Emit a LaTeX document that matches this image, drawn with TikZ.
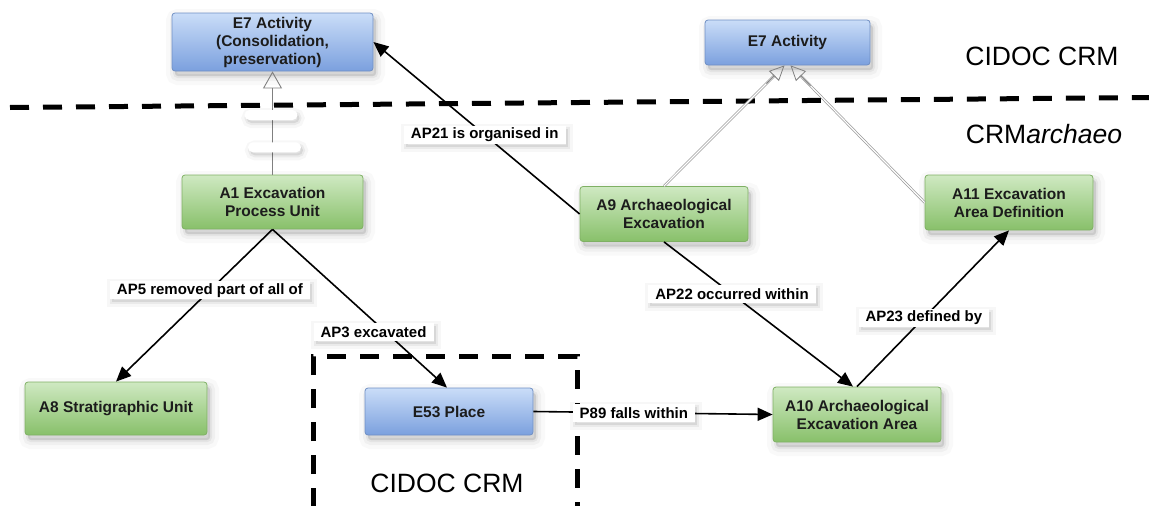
\documentclass[tikz,border=0pt]{standalone}
\usepackage{fontspec}
\setmainfont{Liberation Sans}
\usetikzlibrary{arrows.meta,shadows,calc}
\definecolor{bluetop}{HTML}{CADDF8}
\definecolor{bluebot}{HTML}{7BA0DE}
\definecolor{blueedge}{HTML}{6F8FC4}
\definecolor{greentop}{HTML}{CFE9C2}
\definecolor{greenbot}{HTML}{88C06A}
\definecolor{greenedge}{HTML}{7FB064}
\definecolor{txt}{HTML}{1C1C1C}
\tikzset{
  soft/.style={
    general shadow={shadow xshift=3pt, shadow yshift=-5pt, fill=black, draw=black, line width=18pt, opacity=0.025},
    general shadow={shadow xshift=3pt, shadow yshift=-5pt, fill=black, draw=black, line width=10pt, opacity=0.035},
    general shadow={shadow xshift=3pt, shadow yshift=-5pt, fill=black, draw=black, line width=4pt, opacity=0.05}},
  softsmall/.style={
    general shadow={shadow xshift=2pt, shadow yshift=-3pt, fill=black, draw=black, line width=10pt, opacity=0.03},
    general shadow={shadow xshift=2pt, shadow yshift=-3pt, fill=black, draw=black, line width=4pt, opacity=0.05}},
  box/.style={rounded corners=3pt, line width=0.8pt, align=center, inner sep=0pt,
    text=txt, font=\bfseries\fontsize{15.5}{18}\selectfont, soft},
  bluebox/.style={box, draw=blueedge, top color=bluetop, bottom color=bluebot},
  greenbox/.style={box, draw=greenedge, top color=greentop, bottom color=greenbot},
  lbl/.style={fill=white, inner xsep=7pt, inner ysep=1.5pt, minimum height=18pt,
    font=\bfseries\fontsize{15}{18}\selectfont, text=black, softsmall},
  blank/.style={fill=white, rounded corners=5pt, minimum width=53pt, minimum height=10pt,
    inner sep=0pt, softsmall},
  rel/.style={line width=1.6pt, black, -{Triangle[length=15pt,width=13pt]}},
  isa/.style={line width=0.9pt, gray, -{Triangle[open,length=17pt,width=19pt,line width=0.9pt]}},
  isadouble/.style={line width=0.7pt, gray!80, double=white, double distance=1.2pt},
  isatip/.style={line width=0.8pt, gray, -{Triangle[open,length=15pt,width=14pt,line width=0.8pt]}},
  sep/.style={line width=5pt, black, dash pattern=on 19pt off 14pt},
  big/.style={font=\fontsize{26.5}{30}\selectfont, text=black, inner sep=0pt}
}
\begin{document}
\begin{tikzpicture}[x=1pt,y=-1pt]
\useasboundingbox (0,0) rectangle (1149,506);

% nodes
\node[bluebox, minimum width=201pt, minimum height=58pt] (E7L) at (272.5,42) {E7 Activity\\(Consolidation,\\preservation)};
\node[bluebox, minimum width=165pt, minimum height=45pt] (E7R) at (787.5,42.5) {E7 Activity};
\node[greenbox, minimum width=181pt, minimum height=54pt] (A1) at (272.5,202) {A1 Excavation\\Process Unit};
\node[greenbox, minimum width=168pt, minimum height=55pt] (A9) at (664,214) {A9 Archaeological\\Excavation};
\node[greenbox, minimum width=168pt, minimum height=55pt] (A11) at (1009,202.5) {A11 Excavation\\Area Definition};
\node[greenbox, minimum width=182pt, minimum height=53pt] (A8) at (116,408.5) {A8 Stratigraphic Unit};
\node[bluebox, minimum width=168pt, minimum height=47pt] (E53) at (449,411.5) {E53 Place};
\node[greenbox, minimum width=168pt, minimum height=55pt] (A10) at (857,414.5) {A10 Archaeological\\Excavation Area};

% separators
\draw[sep] (10,107.5) -- (1149,97.5);
\draw[sep] (313,507) -- (313,356) -- (577,356) -- (577,507);
\draw[sep, gray!60, line width=3pt] (330,507) -- (577,507);

% region titles
\node[big] (t1) at (1042,56) {CIDOC CRM};
\node[big] (t2) at (1044,134) {CRM\textit{archaeo}};
\node[big] (t3) at (447,483) {CIDOC CRM};

% inheritance
\draw[isa] (A1.north) -- (E7L.south)
  node[blank, pos=0.264, xshift=2pt] (bl1) {}
  node[blank, pos=0.577, xshift=-1.5pt] (bl2) {};
\coordinate (tipA) at ($(E7R.south)+(-3,0)$);
\coordinate (tipB) at ($(E7R.south)+(3,0)$);
\draw[isadouble, shorten >=14pt] (A9.north) -- (tipA);
\draw[isadouble, shorten >=14pt] (A11.west) -- (tipB);
\draw[isatip] ($(A9.north)!0.85!(tipA)$) -- (tipA);
\draw[isatip] ($(A11.west)!0.85!(tipB)$) -- (tipB);

% relations
\draw[rel] (A9.west) -- (E7L.east) node[lbl, pos=0.46] (l21) {AP21 is organised in};
\draw[rel] (A1.south) -- (A8.north) node[lbl, pos=0.4] (l5) {AP5 removed part of all of};
\draw[rel] (A1.south) -- ($(E53.north)+(-2,0)$) node[lbl, pos=0.648, xshift=-12pt] (l3) {AP3 excavated};
\draw[rel] (A9.south) -- ($(A10.north)+(-4,0)$) node[lbl, pos=0.36] (l22) {AP22 occurred within};
\draw[rel] (A10.north) -- (A11.south) node[lbl, pos=0.44] (l23) {AP23 defined by};
\draw[rel] (E53.east) -- (A10.west) node[lbl, pos=0.42] (l89) {P89 falls within};
\end{tikzpicture}
\end{document}
